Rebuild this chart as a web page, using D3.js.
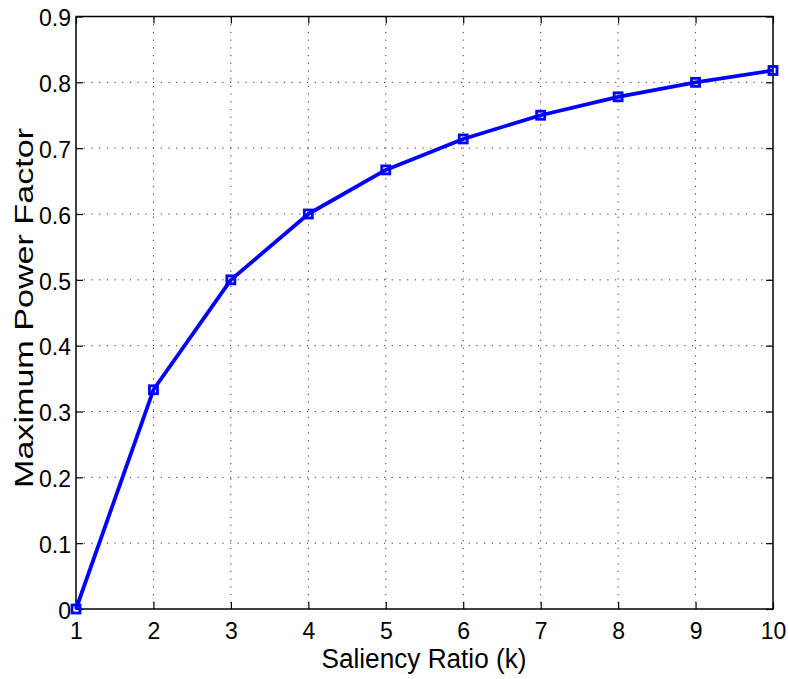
<!DOCTYPE html>
<html>
<head>
<meta charset="utf-8">
<script src="https://cdn.jsdelivr.net/npm/d3@7/dist/d3.min.js"></script>
<style>
  html, body { margin: 0; padding: 0; background: #fff; }
  svg { display: block; }
  text { font-family: "Liberation Sans", Arial, Helvetica, sans-serif; fill: #000; }
</style>
</head>
<body>
<svg id="chart" width="788" height="679"></svg>
<script>
// Saliency ratio k and the maximum power factor (k-1)/(k+1)
const saliencyRatio = [1, 2, 3, 4, 5, 6, 7, 8, 9, 10];
const maxPowerFactor = [0, 0.333, 0.5, 0.6, 0.667, 0.714, 0.75, 0.778, 0.8, 0.818];
const xTicks = [1, 2, 3, 4, 5, 6, 7, 8, 9, 10];
const yTicks = [0, 0.1, 0.2, 0.3, 0.4, 0.5, 0.6, 0.7, 0.8, 0.9];
const xTitle = "Saliency Ratio (k)";
const yTitle = "Maximum Power Factor";

const svg = d3.select("#chart");
const m = { left: 76, top: 16.5, right: 773, bottom: 609 };
const W = m.right - m.left, H = m.bottom - m.top;

const x = d3.scaleLinear().domain([1, 10]).range([m.left, m.right]);
const y = d3.scaleLinear().domain([0, 0.9]).range([m.bottom, m.top]);

// dotted grid
const grid = svg.append("g")
  .attr("stroke", "#333").attr("stroke-width", 1).attr("stroke-dasharray", "1.2,6.5");
grid.selectAll("line.v").data(xTicks.slice(1, -1)).join("line")
  .attr("x1", d => x(d)).attr("x2", d => x(d))
  .attr("y1", m.top).attr("y2", m.bottom);
grid.selectAll("line.h").data(yTicks.slice(1, -1)).join("line")
  .attr("x1", m.left).attr("x2", m.right)
  .attr("y1", d => y(d)).attr("y2", d => y(d));

// axes with inward ticks, mirrored on top and right
const tickLen = 7;
const fmtY = d => d === 0 ? "0" : d3.format(".1f")(d);

const gx = svg.append("g").attr("transform", `translate(0,${m.bottom})`)
  .call(d3.axisBottom(x).tickValues(xTicks).tickSizeInner(-tickLen).tickSizeOuter(0).tickPadding(14).tickFormat(d3.format("d")));
const gy = svg.append("g").attr("transform", `translate(${m.left},0)`)
  .call(d3.axisLeft(y).tickValues(yTicks).tickSizeInner(-tickLen).tickSizeOuter(0).tickPadding(5).tickFormat(fmtY));
const gxt = svg.append("g").attr("transform", `translate(0,${m.top})`)
  .call(d3.axisTop(x).tickValues(xTicks).tickSizeInner(-tickLen).tickSizeOuter(0).tickFormat(""));
const gyr = svg.append("g").attr("transform", `translate(${m.right},0)`)
  .call(d3.axisRight(y).tickValues(yTicks).tickSizeInner(-tickLen).tickSizeOuter(0).tickFormat(""));

[gx, gy, gxt, gyr].forEach(g => {
  g.select(".domain").remove();
  g.selectAll("line").attr("stroke", "#000").attr("stroke-width", 1.2);
  g.selectAll("text").attr("font-size", 23).attr("fill", "#000")
    .attr("font-family", "'Liberation Sans', Arial, sans-serif");
});
gx.selectAll("text").attr("dy", "0.71em");
gy.selectAll("text").attr("dy", "0.4em");

// axes box
svg.append("rect")
  .attr("x", m.left).attr("y", m.top).attr("width", W).attr("height", H)
  .attr("fill", "none").attr("stroke", "#000").attr("stroke-width", 1.5);

// data line
const pts = saliencyRatio.map((k, i) => [k, maxPowerFactor[i]]);
svg.append("path").datum(pts)
  .attr("fill", "none").attr("stroke", "#0000ff").attr("stroke-width", 3.8)
  .attr("stroke-linejoin", "round")
  .attr("d", d3.line().x(d => x(d[0])).y(d => y(d[1])));

// square markers
const s = 8;
svg.append("g").selectAll("rect").data(pts).join("rect")
  .attr("x", d => x(d[0]) - s / 2).attr("y", d => y(d[1]) - s / 2)
  .attr("width", s).attr("height", s)
  .attr("fill", "none").attr("stroke", "#0000ff").attr("stroke-width", 2.8);

// axis titles
svg.append("text")
  .attr("x", 424).attr("y", 668).attr("text-anchor", "middle")
  .attr("font-size", 27).attr("textLength", 205).attr("lengthAdjust", "spacingAndGlyphs")
  .text(xTitle);
svg.append("text")
  .attr("transform", "translate(33,308) rotate(-90)")
  .attr("text-anchor", "middle")
  .attr("font-size", 25).attr("textLength", 360).attr("lengthAdjust", "spacingAndGlyphs")
  .text(yTitle);
</script>
</body>
</html>
